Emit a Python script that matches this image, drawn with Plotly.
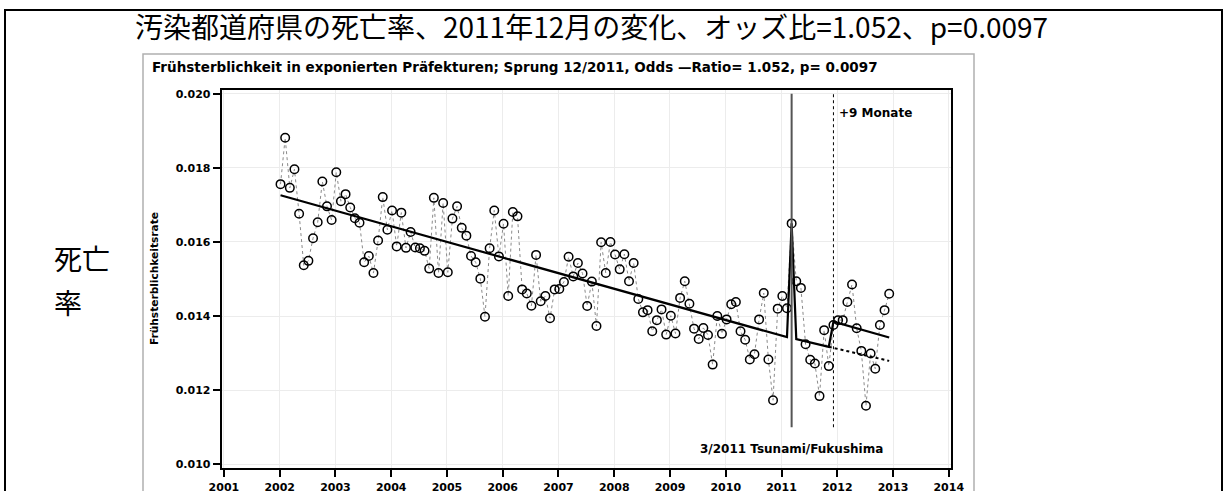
import plotly.graph_objects as go

# ---------------- data ----------------
years = list(range(2002, 2013))
rate_2002 = [0.01756, 0.01881, 0.01746, 0.01796, 0.01676, 0.01537, 0.01549, 0.01610, 0.01653, 0.01763, 0.01696, 0.01659]
rate_2003 = [0.01788, 0.01710, 0.01729, 0.01693, 0.01664, 0.01652, 0.01545, 0.01562, 0.01516, 0.01604, 0.01721, 0.01633]
rate_2004 = [0.01685, 0.01588, 0.01679, 0.01584, 0.01627, 0.01585, 0.01583, 0.01576, 0.01528, 0.01719, 0.01516, 0.01705]
rate_2005 = [0.01518, 0.01663, 0.01696, 0.01638, 0.01617, 0.01562, 0.01545, 0.01501, 0.01398, 0.01583, 0.01685, 0.01561]
rate_2006 = [0.01649, 0.01454, 0.01681, 0.01669, 0.01472, 0.01461, 0.01428, 0.01565, 0.01440, 0.01454, 0.01394, 0.01472]
rate_2007 = [0.01473, 0.01492, 0.01560, 0.01507, 0.01543, 0.01515, 0.01427, 0.01493, 0.01373, 0.01599, 0.01516, 0.01600]
rate_2008 = [0.01566, 0.01526, 0.01567, 0.01494, 0.01543, 0.01446, 0.01410, 0.01416, 0.01359, 0.01389, 0.01418, 0.01350]
rate_2009 = [0.01401, 0.01353, 0.01449, 0.01494, 0.01433, 0.01366, 0.01338, 0.01368, 0.01349, 0.01269, 0.01400, 0.01352]
rate_2010 = [0.01391, 0.01432, 0.01438, 0.01359, 0.01336, 0.01283, 0.01297, 0.01391, 0.01462, 0.01283, 0.01173, 0.01420]
rate_2011 = [0.01454, 0.01421, 0.01650, 0.01494, 0.01476, 0.01324, 0.01282, 0.01272, 0.01184, 0.01362, 0.01265, 0.01376]
rate_2012 = [0.01389, 0.01389, 0.01438, 0.01485, 0.01367, 0.01306, 0.01158, 0.01299, 0.01258, 0.01376, 0.01416, 0.01460]
rates_by_year = [rate_2002, rate_2003, rate_2004, rate_2005, rate_2006, rate_2007,
                 rate_2008, rate_2009, rate_2010, rate_2011, rate_2012]

# fitted model (year, month, value)
fit_year = [2002, 2011, 2011, 2011, 2011, 2011, 2012]
fit_month = [1, 2, 3, 4, 11, 12, 12]
fit_value = [0.01726, 0.01343, 0.01650, 0.01338, 0.01317, 0.01385, 0.01342]
# counterfactual (no jump)
cf_year = [2011, 2012]
cf_month = [11, 12]
cf_value = [0.01317, 0.01279]

# events (year, month)
tsunami_ym = (2011, 3)
jump_ym = (2011, 12)

x_ticks = list(range(2001, 2015))
y_ticks = [0.010, 0.012, 0.014, 0.016, 0.018, 0.020]

title_jp = "汚染都道府県の死亡率、2011年12月の変化、オッズ比=1.052、p=0.0097"
title_de = "Frühsterblichkeit in exponierten Präfekturen; Sprung 12/2011, Odds —Ratio= 1.052, p= 0.0097"
ylabel_jp_1 = "死亡"
ylabel_jp_2 = "率"
ytitle_de = "Frühsterblichkeitsrate"
note_jump = "+9 Monate"
note_tsunami = "3/2011 Tsunami/Fukushima"


def t(y, m):
    return y + (m - 1) / 12 + 0.015


xs, ys = [], []
for yr, vals in zip(years, rates_by_year):
    for i, v in enumerate(vals):
        xs.append(t(yr, i + 1))
        ys.append(v)

W, H = 1227, 491


def px(xp):
    return xp / W


def py(yp):
    return 1 - yp / H


fig = go.Figure()

fig.add_trace(go.Scatter(
    x=xs, y=ys, mode="lines+markers",
    line=dict(color="#8a8a8a", width=1, dash="dot"),
    marker=dict(symbol="circle-open", size=8.5, color="black", line=dict(width=1.5, color="black")),
    showlegend=False, hoverinfo="x+y"))

fig.add_trace(go.Scatter(
    x=[t(a, b) for a, b in zip(fit_year, fit_month)], y=fit_value, mode="lines",
    line=dict(color="black", width=2.2), showlegend=False))

fig.add_trace(go.Scatter(
    x=[t(a, b) for a, b in zip(cf_year, cf_month)], y=cf_value, mode="lines",
    line=dict(color="black", width=2, dash="dot"), showlegend=False))

tx = t(*tsunami_ym)
jx = t(*jump_ym)
shapes = [
    dict(type="line", xref="x", yref="y", x0=tx, x1=tx, y0=0.0110, y1=0.0200,
         line=dict(color="#555555", width=2)),
    dict(type="line", xref="x", yref="y", x0=jx, x1=jx, y0=0.0110, y1=0.0200,
         line=dict(color="black", width=1, dash="dot")),
    # inner picture border
    dict(type="rect", xref="paper", yref="paper", x0=px(143), x1=px(974), y0=py(520), y1=py(54),
         line=dict(color="#b0b0b0", width=1.5), layer="below"),
    # outer frame
    dict(type="rect", xref="paper", yref="paper", x0=px(5), x1=px(1222), y0=py(530), y1=py(10),
         line=dict(color="black", width=2)),
]

annotations = [
    dict(text=title_jp, xref="paper", yref="paper", x=px(133), y=py(26), xanchor="left", yanchor="middle",
         showarrow=False, font=dict(family="Noto Sans CJK JP", size=28, color="black")),
    dict(text=ylabel_jp_1, xref="paper", yref="paper", x=px(52), y=py(258), xanchor="left", yanchor="middle",
         showarrow=False, font=dict(family="Noto Sans CJK JP", size=28, color="black")),
    dict(text=ylabel_jp_2, xref="paper", yref="paper", x=px(52), y=py(302), xanchor="left", yanchor="middle",
         showarrow=False, font=dict(family="Noto Sans CJK JP", size=28, color="black")),
    dict(text="<b>" + title_de + "</b>", xref="paper", yref="paper", x=px(150), y=py(67), xanchor="left",
         yanchor="middle", showarrow=False, font=dict(family="DejaVu Sans", size=13.5, color="black")),
    dict(text="<b>" + ytitle_de + "</b>", xref="paper", yref="paper", x=px(154), y=py(279), xanchor="center",
         yanchor="middle", textangle=-90, showarrow=False, font=dict(family="DejaVu Sans", size=10.6, color="black")),
    dict(text="<b>" + note_jump + "</b>", xref="x", yref="y", x=jx + 0.06, y=0.01947, xanchor="left",
         yanchor="middle", showarrow=False, font=dict(family="DejaVu Sans", size=12, color="black")),
    dict(text="<b>" + note_tsunami + "</b>", xref="x", yref="y", x=tx, y=0.0104, xanchor="center",
         yanchor="middle", showarrow=False, font=dict(family="DejaVu Sans", size=12, color="black")),
]

axis_common = dict(
    showgrid=True, gridcolor="#ececec", gridwidth=1, zeroline=False,
    showline=True, linecolor="black", linewidth=2, mirror=True,
    ticks="outside", ticklen=7, tickwidth=1.5, tickcolor="black", automargin=False,
    tickfont=dict(family="DejaVu Sans", size=11, color="black", weight="bold"),
)

fig.update_layout(
    template="none",
    width=W, height=H, autosize=False,
    margin=dict(l=0, r=0, t=0, b=0, pad=0, autoexpand=False),
    paper_bgcolor="white", plot_bgcolor="white",
    shapes=shapes, annotations=annotations, showlegend=False,
    xaxis=dict(domain=[px(221.7), px(951)], range=[2000.96, 2014.04], tickmode="array",
               tickvals=x_ticks, ticktext=[str(v) for v in x_ticks], ticklabelstandoff=1,
               **axis_common),
    yaxis=dict(domain=[py(468), py(90)], range=[0.0099, 0.0201], tickmode="array",
               tickvals=y_ticks, ticktext=["%.3f" % v for v in y_ticks],
               **axis_common),
)

fig.write_html("out.html", config={"displayModeBar": False},
               post_script="document.body.style.margin='0';document.body.style.overflow='hidden';")
